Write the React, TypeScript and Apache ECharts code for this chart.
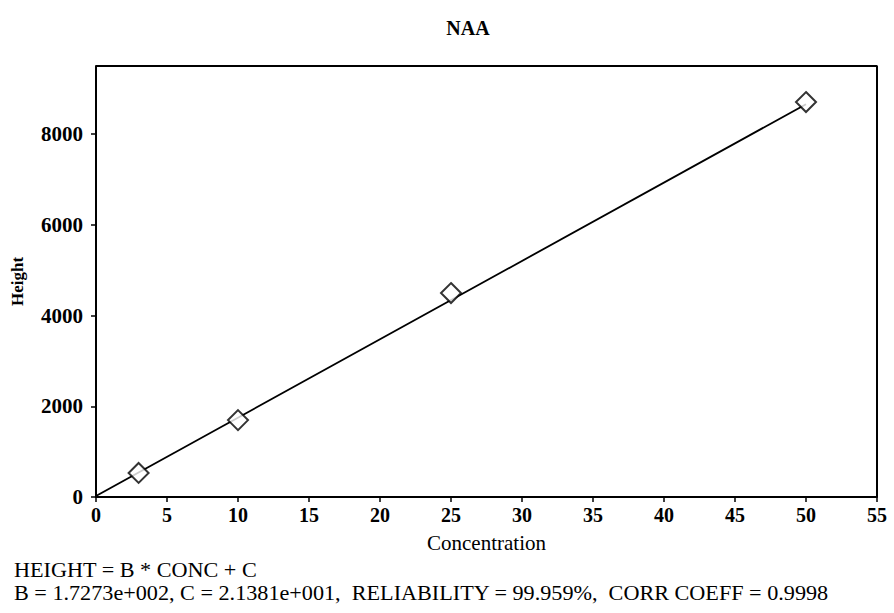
import React, { useEffect, useRef } from "react";
import * as echarts from "echarts";

const titleText = "NAA";
const xName = "Concentration";
const yName = "Height";
const concentrations = [3, 10, 25, 50];
const heights = [530, 1695, 4495, 8705];
const fitX = [0, 50];
const fitY = [21.381, 8658.0];
const footer1 = "HEIGHT = B * CONC + C";
const footer2 = "B = 1.7273e+002, C = 2.1381e+001,  RELIABILITY = 99.959%,  CORR COEFF = 0.9998";

const FONT = "'Liberation Serif', 'Times New Roman', serif";

export default function App() {
  const ref = useRef<HTMLDivElement>(null);
  useEffect(() => {
    if (!ref.current) return;
    const chart = echarts.init(ref.current, null, { renderer: "svg" });
    chart.setOption({
      animation: false,
      backgroundColor: "#ffffff",
      title: {
        text: titleText,
        left: 463,
        top: 13,
        textAlign: "center",
        textStyle: { fontFamily: FONT, fontSize: 20, fontWeight: "bold", color: "#000" },
      },
      grid: { left: 96, right: 17, top: 66, bottom: 116, containLabel: false },
      xAxis: {
        type: "value",
        min: 0,
        max: 55,
        interval: 5,
        name: xName,
        nameLocation: "middle",
        nameGap: 35,
        nameTextStyle: { fontFamily: FONT, fontSize: 21, color: "#000" },
        axisLine: { show: true, onZero: false, lineStyle: { color: "#000", width: 2 } },
        axisTick: { show: true, inside: false, length: 5, lineStyle: { color: "#000", width: 1.5 } },
        axisLabel: { fontFamily: FONT, fontSize: 20, fontWeight: "bold", color: "#000", margin: 8 },
        splitLine: { show: false },
      },
      yAxis: {
        type: "value",
        min: 0,
        max: 9500,
        interval: 2000,
        name: yName,
        nameLocation: "middle",
        nameGap: 70,
        nameTextStyle: { fontFamily: FONT, fontSize: 17, fontWeight: "bold", color: "#000" },
        axisLine: { show: true, onZero: false, lineStyle: { color: "#000", width: 2 } },
        axisTick: { show: true, inside: false, length: 5, lineStyle: { color: "#000", width: 1.5 } },
        axisLabel: {
          fontFamily: FONT,
          fontSize: 21,
          fontWeight: "bold",
          color: "#000",
          margin: 13,
          showMaxLabel: false,
          formatter: (v: number) => String(v),
        },
        splitLine: { show: false },
      },
      series: [
        {
          type: "line",
          data: fitX.map((x, i) => [x, fitY[i]]),
          showSymbol: false,
          symbol: "none",
          lineStyle: { color: "#000", width: 1.8 },
          z: 2,
        },
        {
          type: "scatter",
          data: concentrations.map((c, i) => [c, heights[i]]),
          symbol: "diamond",
          symbolSize: 20,
          itemStyle: { color: "#fff", borderColor: "#000", borderWidth: 2 },
          z: 3,
        },
        {
          type: "line",
          data: [[55, 0], [55, 9500], [0, 9500]],
          showSymbol: false,
          symbol: "none",
          lineStyle: { color: "#000", width: 2 },
          silent: true,
          z: 1,
        },
      ],
      graphic: [
        {
          type: "text",
          x: 14,
          y: 560,
          scaleX: 1.11,
          style: { text: footer1, x: 0, y: 0, font: `20px ${FONT}`, fill: "#000", verticalAlign: "top" },
        },
        {
          type: "text",
          x: 14,
          y: 583,
          scaleX: 1.11,
          style: { text: footer2, x: 0, y: 0, font: `20px ${FONT}`, fill: "#000", verticalAlign: "top" },
        },
      ],
    });
    return () => chart.dispose();
  }, []);
  return <div ref={ref} style={{ width: 894, height: 613, position: "absolute", left: 0, top: 0 }} />;
}
